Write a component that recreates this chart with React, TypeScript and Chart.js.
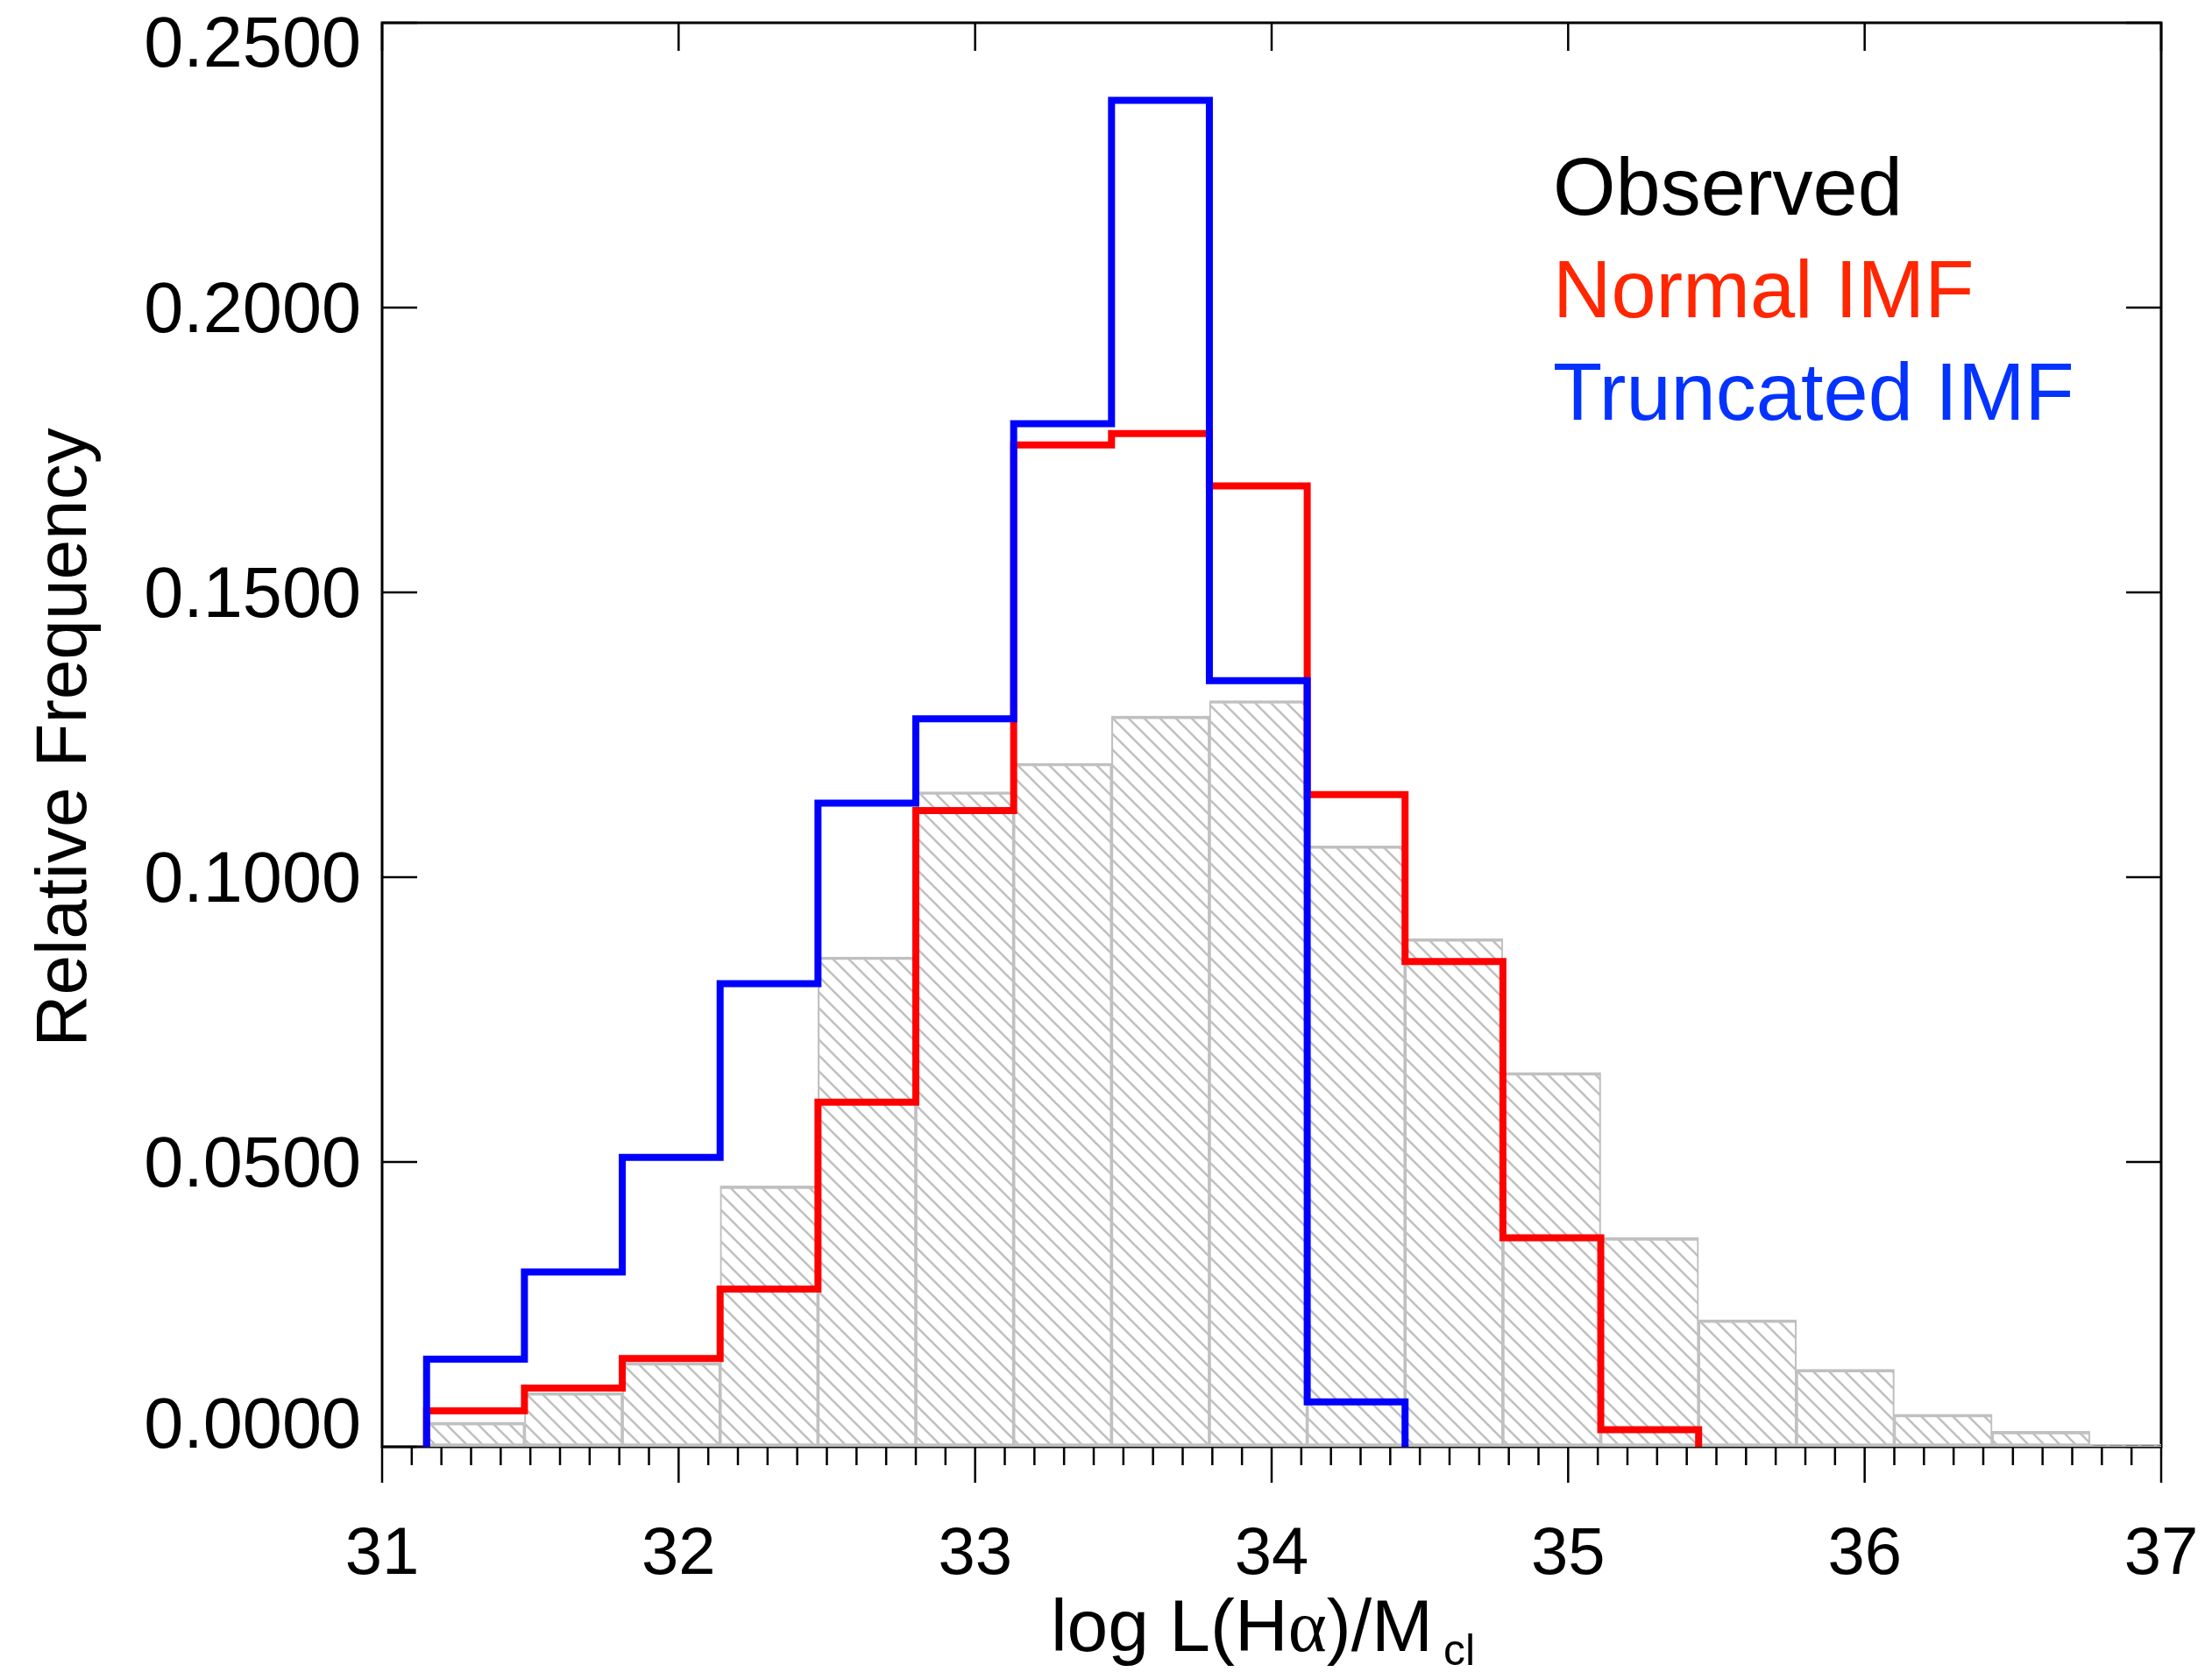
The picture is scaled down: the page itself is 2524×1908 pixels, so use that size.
import React, { useEffect, useRef } from "react";
import { Chart, registerables } from "chart.js";

Chart.register(...registerables);

// ---- data ----
const BIN_START = 31.15;
const BIN_WIDTH = 0.33;
const observed = [
  0.0043, 0.0095, 0.0148, 0.0458, 0.086, 0.115, 0.12, 0.1283, 0.131,
  0.1055, 0.0892, 0.0657, 0.0367, 0.0223, 0.0136, 0.0057, 0.0027, 0.0004,
];
const normalIMF = [
  0.0063, 0.0103, 0.0155, 0.0277, 0.0605, 0.1117, 0.1759, 0.1779, 0.1687,
  0.1145, 0.0852, 0.0367, 0.003,
];
const truncatedIMF = [
  0.0154, 0.0307, 0.0508, 0.0813, 0.113, 0.1278, 0.1796, 0.2364, 0.1345,
  0.0079,
];
const xTickValues = [31, 32, 33, 34, 35, 36, 37];
const xTickLabels = ["31", "32", "33", "34", "35", "36", "37"];
const yTickValues = [0, 0.05, 0.1, 0.15, 0.2, 0.25];
const yTickLabels = ["0.0000", "0.0500", "0.1000", "0.1500", "0.2000", "0.2500"];
const legendLabels = ["Observed", "Normal IMF", "Truncated IMF"];
const legendColors = ["#000000", "#ff2600", "#0433ff"];
const yTitle = "Relative Frequency";
const xTitleParts = ["log L(H", "\u03b1", ")/M", "cl"];

const FONT = '"Liberation Sans", Arial, Helvetica, sans-serif';

// points at each bin's left edge; with stepped "before" a point's value
// holds until the next point, giving a histogram outline
function stepPoints(values: number[]) {
  const pts = [{ x: BIN_START, y: 0 }];
  values.forEach((v, i) => pts.push({ x: BIN_START + i * BIN_WIDTH, y: v }));
  pts.push({ x: BIN_START + values.length * BIN_WIDTH, y: 0 });
  return pts;
}

const decor = {
  id: "decor",
  beforeDatasetsDraw(chart: any) {
    const { ctx, chartArea: a, scales } = chart;
    const x = scales.x;
    const y = scales.y;
    ctx.save();
    ctx.strokeStyle = "#000";
    ctx.lineWidth = 3;
    ctx.lineCap = "butt";
    ctx.strokeRect(a.left, a.top, a.right - a.left, a.bottom - a.top);
    ctx.lineWidth = 2.5;
    ctx.beginPath();
    for (const v of yTickValues) {
      const py = y.getPixelForValue(v);
      ctx.moveTo(a.left, py);
      ctx.lineTo(a.left + 40, py);
      ctx.moveTo(a.right, py);
      ctx.lineTo(a.right - 40, py);
    }
    for (const v of xTickValues) {
      const px = x.getPixelForValue(v);
      ctx.moveTo(px, a.bottom);
      ctx.lineTo(px, a.bottom + 41);
      ctx.moveTo(px, a.top);
      ctx.lineTo(px, a.top + 32);
    }
    for (let k = 0; k <= 60; k++) {
      if (k % 10 === 0) continue;
      const px = x.getPixelForValue(31 + k / 10);
      ctx.moveTo(px, a.bottom);
      ctx.lineTo(px, a.bottom + 21);
    }
    ctx.stroke();
    ctx.restore();
  },
  afterDraw(chart: any) {
    const { ctx, chartArea: a, scales } = chart;
    const x = scales.x;
    const y = scales.y;
    ctx.save();
    ctx.fillStyle = "#000";
    ctx.font = `81px ${FONT}`;
    ctx.textAlign = "right";
    ctx.textBaseline = "alphabetic";
    yTickValues.forEach((v, i) => {
      const py = y.getPixelForValue(v);
      const base = Math.min(Math.max(py + 28, a.top + 50), a.bottom + 1);
      ctx.fillText(yTickLabels[i], a.left - 24, base);
    });
    ctx.font = `76px ${FONT}`;
    ctx.textAlign = "center";
    xTickValues.forEach((v, i) => {
      ctx.fillText(xTickLabels[i], x.getPixelForValue(v), a.bottom + 145);
    });
    ctx.save();
    ctx.font = `82px ${FONT}`;
    ctx.translate(98, (a.top + a.bottom) / 2 + 3);
    ctx.rotate(-Math.PI / 2);
    ctx.textAlign = "center";
    ctx.fillText(yTitle, 0, 0);
    ctx.restore();
    ctx.textAlign = "left";
    const mainFont = `84px ${FONT}`;
    const greekFont = `84px "Liberation Serif", "DejaVu Serif", serif`;
    const subFont = `50px ${FONT}`;
    ctx.font = mainFont;
    const w1 = ctx.measureText(xTitleParts[0]).width;
    const w3 = ctx.measureText(xTitleParts[2]).width;
    ctx.font = greekFont;
    const w2 = ctx.measureText(xTitleParts[1]).width;
    ctx.font = subFont;
    const w4 = ctx.measureText(xTitleParts[3]).width;
    const gap = 12;
    const total = w1 + w2 + w3 + gap + w4;
    let sx = (a.left + a.right) / 2 - 10 - total / 2;
    const base = a.bottom + 233;
    ctx.font = mainFont;
    ctx.fillText(xTitleParts[0], sx, base);
    sx += w1;
    ctx.font = greekFont;
    ctx.fillText(xTitleParts[1], sx, base);
    sx += w2;
    ctx.font = mainFont;
    ctx.fillText(xTitleParts[2], sx, base);
    sx += w3 + gap;
    ctx.font = subFont;
    ctx.fillText(xTitleParts[3], sx, base + 16);
    ctx.font = `92px ${FONT}`;
    legendLabels.forEach((t, i) => {
      ctx.fillStyle = legendColors[i];
      ctx.fillText(t, a.left + 1336, a.top + 219 + i * 117);
    });
    ctx.restore();
  },
};

export default function App() {
  const ref = useRef<HTMLCanvasElement>(null);
  useEffect(() => {
    const canvas = ref.current;
    if (!canvas) return;
    const S = 18;
    const pc = document.createElement("canvas");
    pc.width = S;
    pc.height = S;
    const p = pc.getContext("2d")!;
    p.strokeStyle = "#c0c0c0";
    p.lineWidth = 2.6;
    const segs = [
      [-S, -S, 2 * S, 2 * S],
      [0, -S, 2 * S, S],
      [-S, 0, S, 2 * S],
    ];
    for (const [x0, y0, x1, y1] of segs) {
      p.beginPath();
      p.moveTo(x0, y0);
      p.lineTo(x1, y1);
      p.stroke();
    }
    const ctx2 = canvas.getContext("2d")!;
    const pattern = ctx2.createPattern(pc, "repeat");

    const lineCommon = {
      type: "line",
      borderWidth: 8,
      stepped: "before",
      pointRadius: 0,
      fill: false,
      borderJoinStyle: "miter",
      borderCapStyle: "butt",
    };

    const chart = new Chart(canvas, {
      type: "bar",
      data: {
        datasets: [
          {
            ...lineCommon,
            label: legendLabels[2],
            data: stepPoints(truncatedIMF),
            borderColor: "#0000ff",
            order: 0,
          } as any,
          {
            ...lineCommon,
            label: legendLabels[1],
            data: stepPoints(normalIMF),
            borderColor: "#ff0000",
            order: 1,
          } as any,
          {
            type: "bar",
            label: legendLabels[0],
            data: observed.map((v, i) => ({
              x: BIN_START + (i + 0.5) * BIN_WIDTH,
              y: v,
            })),
            backgroundColor: pattern as any,
            borderColor: "#c0c0c0",
            borderWidth: { top: 3, left: 1.5, right: 1.5, bottom: 3.5 },
            borderSkipped: false,
            barPercentage: 1,
            categoryPercentage: 1,
            grouped: false,
            order: 2,
            clip: { left: false, top: false, bottom: false, right: 0 },
          } as any,
        ],
      },
      options: {
        responsive: false,
        animation: false,
        devicePixelRatio: 1,
        layout: { padding: { left: 436, right: 58, top: 26, bottom: 257 } },
        plugins: { legend: { display: false }, tooltip: { enabled: false } },
        scales: {
          x: {
            type: "linear",
            min: 31,
            max: 37,
            offset: false,
            display: false,
            ticks: { stepSize: 1 },
          },
          y: { type: "linear", min: 0, max: 0.25, display: false },
        },
      } as any,
      plugins: [decor],
    });
    return () => chart.destroy();
  }, []);
  return (
    <div style={{ position: "absolute", left: 0, top: 0, width: 2524, height: 1908, background: "#fff" }}>
      <canvas ref={ref} width={2524} height={1908} style={{ display: "block" }} />
    </div>
  );
}
